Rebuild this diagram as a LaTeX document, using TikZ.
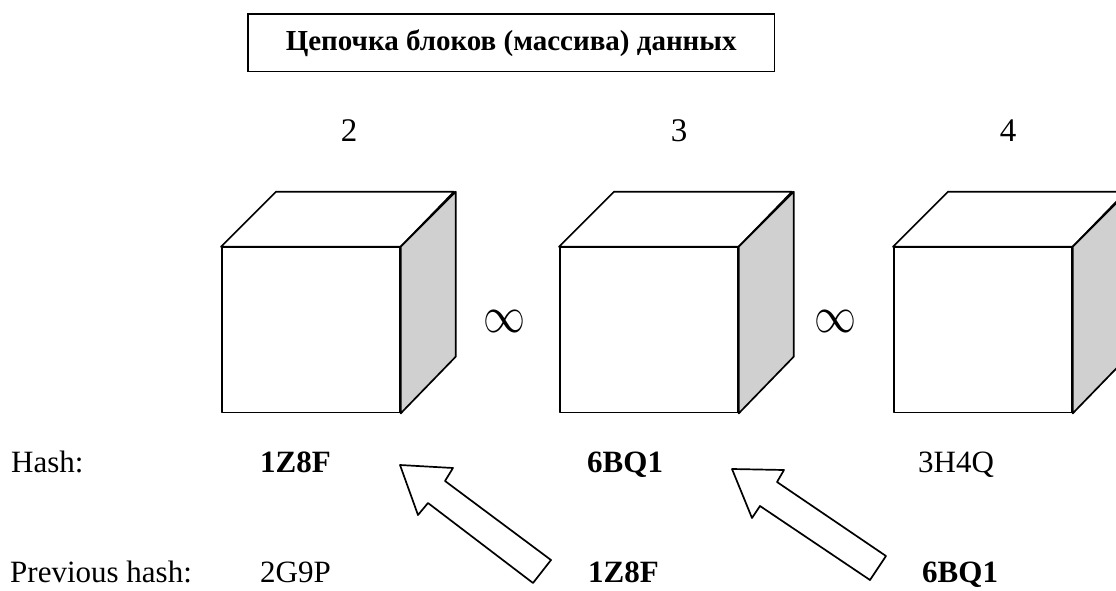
\documentclass[tikz,border=0pt]{standalone}
\usepackage{fontspec}
\setmainfont{Liberation Serif}
\definecolor{sideface}{RGB}{208,208,208}
\begin{document}
\begin{tikzpicture}[x=1pt,y=-1pt,
  edge/.style={line width=1.7pt, line join=round},
  front/.style={draw, edge, fill=white, minimum width=178, minimum height=165, inner sep=0, anchor=north west},
  lbl/.style={inner sep=0, anchor=base west, font=\fontsize{31}{36}\selectfont},
  bval/.style={lbl, font=\fontsize{31}{36}\selectfont\bfseries},
  num/.style={inner sep=0, anchor=base, font=\fontsize{33}{38}\selectfont},
  inf/.style={inner sep=0, anchor=center}]
\useasboundingbox (0,0) rectangle (1116,591);
\clip (0,0) rectangle (1116,591);

% title
\node[draw, line width=1.6pt, anchor=north west, inner xsep=38pt, inner ysep=16.35pt,
      text height=20pt, text depth=5pt, font=\fontsize{29}{34}\selectfont\bfseries]
  (title) at (247,13) {Цепочка блоков (массива) данных};

% numbers
\node[num] (n2) at (349,142) {2};
\node[num] (n3) at (679,142) {3};
\node[num] (n4) at (1008,142) {4};

% cubes
\foreach \i/\L in {1/221, 2/559, 3/893} {
  \node[front] (f\i) at (\L,246.7) {};
  \draw[edge, fill=white] (f\i.north west) -- ++(55,-55) -- ++(178,0) -- (f\i.north east) -- cycle;
  \draw[edge, fill=sideface] (f\i.north east) -- ++(55,-55) -- ++(0,165) -- (f\i.south east) -- cycle;
}

% infinity
\node[inf] (i1) at (504,321.7) {\resizebox{42pt}{22pt}{$\infty$}};
\node[inf] (i2) at (835,321.7) {\resizebox{42pt}{22pt}{$\infty$}};

% labels
\node[lbl] (hash) at (11,472) {Hash:};
\node[bval] (h1) at (260,472) {1Z8F};
\node[bval] (h2) at (587,472) {6BQ1};
\node[lbl] (h3) at (918,472) {3H4Q};
\node[lbl] (prev) at (10,582) {Previous hash:};
\node[lbl] (p1) at (260,582) {2G9P};
\node[bval] (p2) at (588,582) {1Z8F};
\node[bval] (p3) at (922,582) {6BQ1};

% block arrows
\draw[edge, fill=white] (400,465) -- (453,468) -- (445,481) -- (551,560) -- (533,583) -- (428,503) -- (418,515) -- cycle;
\draw[edge, fill=white] (732,469) -- (784,470) -- (777,482) -- (886,556) -- (870,580) -- (760,506) -- (752,518) -- cycle;
\end{tikzpicture}
\end{document}
